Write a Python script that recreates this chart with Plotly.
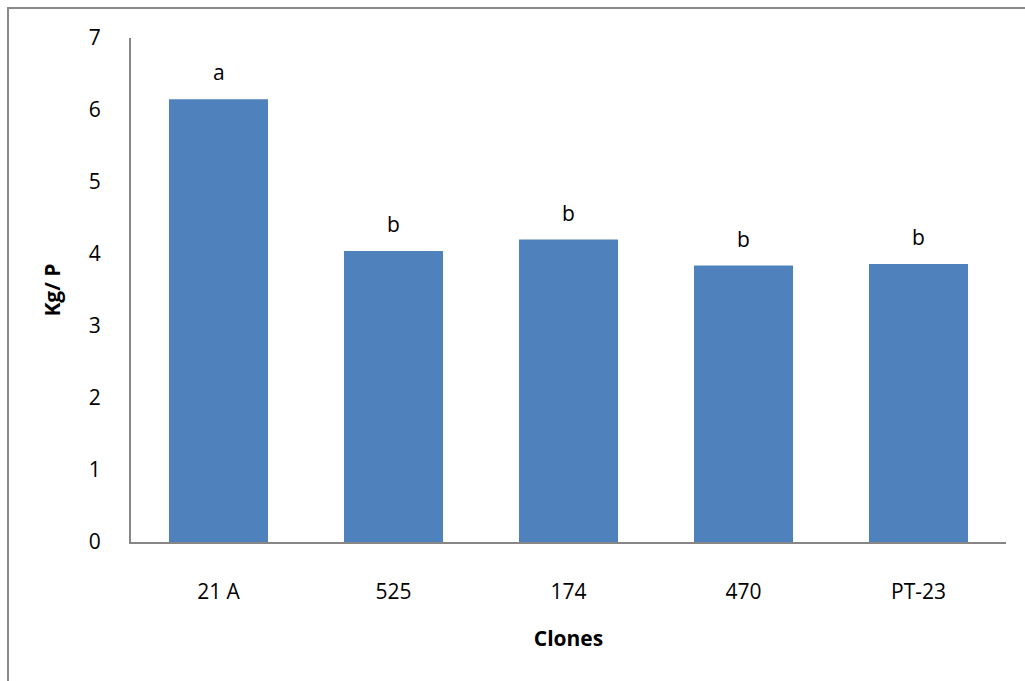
import plotly.graph_objects as go

# Yield per plant (kg) for each clone, with significance letters
clones = ["21 A", "525", "174", "470", "PT-23"]
kg_per_plant = [6.15, 4.04, 4.2, 3.84, 3.86]
letters = ["a", "b", "b", "b", "b"]
y_ticks = [0, 1, 2, 3, 4, 5, 6, 7]

FONT = "Open Sans"
W, H = 1025, 681
ML, MR, MT, MB = 131, 19, 38, 139

fig = go.Figure()
fig.add_trace(go.Bar(
    x=clones,
    y=kg_per_plant,
    marker=dict(color="#4F81BD", line=dict(width=0)),
    hoverinfo="x+y",
))

# Significance letters centred just above each bar (x given as category index)
for i, (v, t) in enumerate(zip(kg_per_plant, letters)):
    fig.add_annotation(
        x=i, y=v, text=t, showarrow=False,
        yanchor="middle", yshift=27,
        font=dict(family=FONT, size=21, color="black"),
    )

fig.update_layout(
    width=W, height=H,
    margin=dict(l=ML, r=MR, t=MT, b=MB, pad=0),
    paper_bgcolor="white",
    plot_bgcolor="white",
    bargap=0.434,
    showlegend=False,
    font=dict(family=FONT, size=21, color="black"),
)

fig.update_xaxes(
    type="category", categoryorder="array", categoryarray=clones,
    range=[-0.5, len(clones) - 0.5],
    showline=True, linecolor="#868686", linewidth=2,
    ticks="", showgrid=False,
    ticklabelstandoff=30,
    tickfont=dict(family=FONT, size=21),
    title=dict(text="<b>Clones</b>", font=dict(family=FONT, size=21), standoff=27),
)
fig.update_yaxes(
    range=[0, 7], tickvals=y_ticks,
    showline=True, linecolor="#868686", linewidth=2,
    ticks="", ticklabelstandoff=24,
    showgrid=False, zeroline=False,
    tickfont=dict(family=FONT, size=21),
    title=dict(text="<b>Kg/ P</b>", font=dict(family=FONT, size=21), standoff=22),
)

# Outer chart frame
pw, ph = W - ML - MR, H - MT - MB
fig.add_shape(
    type="rect", xref="paper", yref="paper",
    x0=(8 - ML) / pw, x1=(W + 10 - ML) / pw,
    y0=(ph + MT - H - 10) / ph, y1=(ph + MT - 8) / ph,
    line=dict(color="#888888", width=2), fillcolor="rgba(0,0,0,0)",
    layer="below",
)

fig.write_html("out.html")
